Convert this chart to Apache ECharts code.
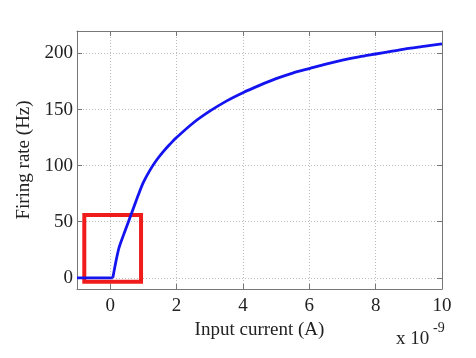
<!DOCTYPE html>
<html>
<head>
<meta charset="utf-8">
<script src="https://cdn.jsdelivr.net/npm/echarts@6/dist/echarts.min.js"></script>
<style>html,body{margin:0;padding:0;background:#fff;}#c{width:476px;height:358px;}</style>
</head>
<body>
<div id="c"></div>
<script>
// Input current (units of 1e-9 A) and firing rate (Hz): below threshold
const currentBelow = [-1, 0.08];
const rateBelow = [0, 0];
// above threshold
const currentAbove = [0.08, 0.25, 0.4, 0.55, 0.7, 0.85, 1.0, 1.2, 1.4, 1.6, 1.8, 2.0, 2.5, 3.0, 3.5, 4.0, 4.5, 5.0, 5.5, 6.0, 6.5, 7.0, 7.5, 8.0, 8.5, 9.0, 9.5, 10];
const rateAbove = [0, 25, 38, 50, 62, 74, 85, 96, 105, 112.5, 119, 125, 138, 148.5, 157.5, 165, 171.5, 177.5, 182.5, 186.5, 190.5, 194, 197, 199.5, 202, 204.5, 206.5, 208.5];
const xTicks = [0, 2, 4, 6, 8, 10];
const yTicks = [0, 50, 100, 150, 200];
// highlighted region [x0, y0] - [x1, y1]
const boxCorners = [[-0.78, -3.5], [0.93, 56]];

const font = 'Liberation Serif';
const axisCol = '#777';
const lineCol = '#1414f0';
const gridLine = {show: true, lineStyle: {color: '#bbb', type: [1, 2], width: 1}};

const chart = echarts.init(document.getElementById('c'));
chart.setOption({
  animation: false,
  backgroundColor: '#fff',
  grid: {left: 77, right: 34, top: 31, bottom: 69},
  xAxis: [{
    type: 'value', min: -1, max: 10, position: 'bottom',
    name: 'Input current (A)', nameLocation: 'middle', nameGap: 27,
    nameTextStyle: {fontFamily: font, fontSize: 19, color: '#222'},
    axisLine: {show: true, onZero: false, lineStyle: {color: axisCol, width: 1}},
    axisTick: {show: true, inside: true, length: 5, customValues: xTicks, lineStyle: {color: axisCol}},
    axisLabel: {customValues: xTicks, fontFamily: font, fontSize: 19, color: '#222', margin: 8},
    splitLine: gridLine
  }, {
    type: 'value', min: -1, max: 10, position: 'top',
    axisLine: {show: true, onZero: false, lineStyle: {color: axisCol, width: 1}},
    axisTick: {show: true, inside: true, length: 5, customValues: xTicks, lineStyle: {color: axisCol}},
    axisLabel: {show: false},
    splitLine: {show: false}
  }],
  yAxis: [{
    type: 'value', min: -10, max: 220, position: 'left',
    name: 'Firing rate (Hz)', nameLocation: 'middle', nameGap: 36,
    nameTextStyle: {fontFamily: font, fontSize: 19, color: '#222'},
    axisLine: {show: true, onZero: false, lineStyle: {color: axisCol, width: 1}},
    axisTick: {show: true, inside: true, length: 5, customValues: yTicks, lineStyle: {color: axisCol}},
    axisLabel: {customValues: yTicks, fontFamily: font, fontSize: 19, color: '#222', margin: 4},
    splitLine: gridLine
  }, {
    type: 'value', min: -10, max: 220, position: 'right',
    axisLine: {show: true, onZero: false, lineStyle: {color: axisCol, width: 1}},
    axisTick: {show: true, inside: true, length: 5, customValues: yTicks, lineStyle: {color: axisCol}},
    axisLabel: {show: false},
    splitLine: {show: false}
  }],
  series: [{
    type: 'line',
    data: currentBelow.map((x, i) => [x, rateBelow[i]]),
    showSymbol: false,
    lineStyle: {color: lineCol, width: 2.8},
    z: 3,
    markArea: {
      silent: true,
      itemStyle: {color: 'rgba(0,0,0,0)', borderColor: '#f01c1c', borderWidth: 4},
      data: [[{coord: boxCorners[0]}, {coord: boxCorners[1]}]]
    }
  }, {
    type: 'line',
    data: currentAbove.map((x, i) => [x, rateAbove[i]]),
    showSymbol: false,
    smooth: 0.3,
    lineStyle: {color: lineCol, width: 2.8},
    z: 3
  }],
  graphic: [
    {type: 'text', left: 396, top: 330, style: {text: 'x 10', font: '19px "Liberation Serif"', fill: '#222'}},
    {type: 'text', left: 433, top: 321, style: {text: '-9', font: '14px "Liberation Serif"', fill: '#222'}}
  ]
});
</script>
</body>
</html>
